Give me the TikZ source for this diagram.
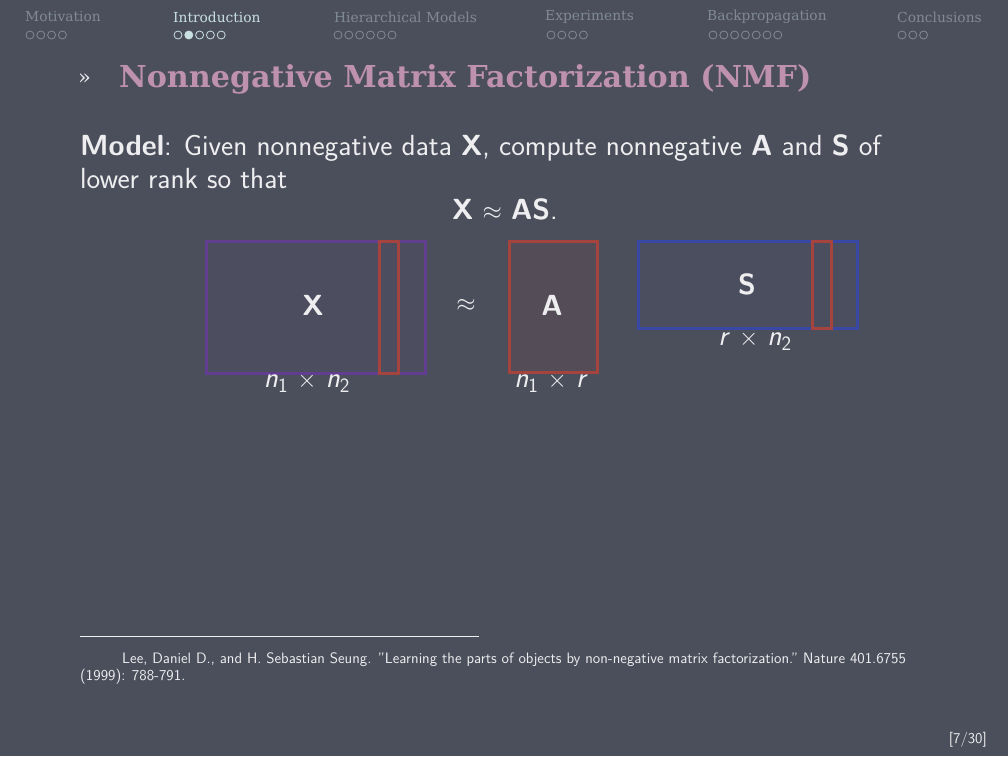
\documentclass[tikz,border=0pt]{standalone}
\usepackage{fontspec}
\newfontfamily\hdrfont{DejaVu Serif}
\usetikzlibrary{positioning}
\definecolor{bg}{RGB}{75,79,91}
\definecolor{hdrgray}{RGB}{128,138,148}
\definecolor{hdract}{RGB}{200,224,226}
\definecolor{titlec}{RGB}{190,145,175}
\definecolor{bodyc}{RGB}{238,238,240}
\definecolor{purp}{RGB}{98,62,145}
\definecolor{redc}{RGB}{165,68,62}
\definecolor{bluec}{RGB}{58,72,165}
\tikzset{
  hdr/.style={anchor=west,inner sep=0pt,font=\hdrfont\fontsize{13.8}{15}\selectfont,text=hdrgray},
  hdron/.style={hdr,text=hdract},
  dot/.style={circle,draw=hdrgray,line width=0.8pt,minimum size=8pt,inner sep=0pt},
  doton/.style={dot,draw=hdract},
  dotfill/.style={dot,draw=hdract,fill=hdract},
  body/.style={anchor=base west,inner sep=0pt,font=\sffamily\fontsize{29.1}{34}\selectfont,text=bodyc},
  mat/.style={line width=3pt},
  lab/.style={inner sep=0pt,font=\sffamily\fontsize{29.1}{34}\selectfont,text=bodyc},
  foot/.style={anchor=base west,inner sep=0pt,font=\sffamily\fontsize{15.1}{17}\selectfont,text=bodyc},
}
\newcommand{\nn}[1]{\textsl{n}\textsubscript{#1}}
\begin{document}
\begin{tikzpicture}[x=1pt,y=-1pt]
\fill[bg] (0,0) rectangle (1008,756);
\useasboundingbox (0,0) rectangle (1008,756);
% header
\node[hdr] (h1) at (25,17) {Motivation};
\node[hdron] (h2) at (173,17) {Introduction};
\node[hdr] (h3) at (334,17) {Hierarchical Models};
\node[hdr] (h4) at (545,17) {Experiments};
\node[hdr] (h5) at (707,17) {Backpropagation};
\node[hdr] (h6) at (897,17) {Conclusions};
\foreach \i in {0,...,3} {\node[dot] (da\i) at (30+10.8*\i,35) {};}
\node[doton] (db0) at (178,35) {};
\node[dotfill] (db1) at (188.8,35) {};
\foreach \i in {2,...,4} {\node[doton] (db\i) at (178+10.8*\i,35) {};}
\foreach \i in {0,...,5} {\node[dot] (dc\i) at (338+10.8*\i,35) {};}
\foreach \i in {0,...,3} {\node[dot] (dd\i) at (551+10.8*\i,35) {};}
\foreach \i in {0,...,6} {\node[dot] (de\i) at (713+10.8*\i,35) {};}
\foreach \i in {0,...,2} {\node[dot] (df\i) at (902+10.8*\i,35) {};}
% title
\node[anchor=base west,inner sep=0pt,text=bodyc,font=\hdrfont\fontsize{21}{22}\selectfont] (bullet) at (78,84) {»};
\node[anchor=base west,inner sep=0pt,text=titlec,font=\hdrfont\bfseries\fontsize{30.2}{33}\selectfont] (title) at (119,87) {Nonnegative Matrix Factorization (NMF)};
% body
\node[body] (l1) at (80,155) {\textbf{Model}: Given nonnegative data \textbf{X}, compute nonnegative \textbf{A} and \textbf{S} of};
\node[body] (l2) at (80,188) {lower rank so that};
\node[lab,anchor=base] (eq) at (505,219) {\textbf{X} $\approx$ \textbf{AS}.};
% matrices
\draw[mat,draw=purp,fill=purp,fill opacity=0.07] (206,241) rectangle (425,373);
\draw[mat,draw=redc] (379,241) rectangle (398,373);
\node[lab] (X) at (313,305) {\textbf{X}};
\node[lab] (Xd) at (307,383) {\nn{1} $\times$ \nn{2}};
\node[lab] (ap) at (466,305) {$\approx$};
\draw[mat,draw=redc,fill=redc,fill opacity=0.1] (509,241) rectangle (597,372);
\node[lab] (A) at (552,305) {\textbf{A}};
\node[lab] (Ad) at (551,383) {\nn{1} $\times$ \textsl{r}};
\draw[mat,draw=bluec,fill=bluec,fill opacity=0.06] (638,241) rectangle (857,328);
\draw[mat,draw=redc] (812,241) rectangle (831,328);
\node[lab] (S) at (747,284) {\textbf{S}};
\node[lab] (Sd) at (755,341) {\textsl{r} $\times$ \nn{2}};
% footnote
\draw[bodyc,line width=0.8pt] (80,636) -- (479,636);
\node[foot] (f1) at (122,663) {Lee, Daniel D., and H. Sebastian Seung. "Learning the parts of objects by non-negative matrix factorization." Nature 401.6755};
\node[foot] (f2) at (80,680) {(1999): 788-791.};
\node[anchor=base east,inner sep=0pt,text=bodyc,font=\sffamily\fontsize{15}{16}\selectfont] (pg) at (987,743) {[7/30]};
\end{tikzpicture}
\end{document}
